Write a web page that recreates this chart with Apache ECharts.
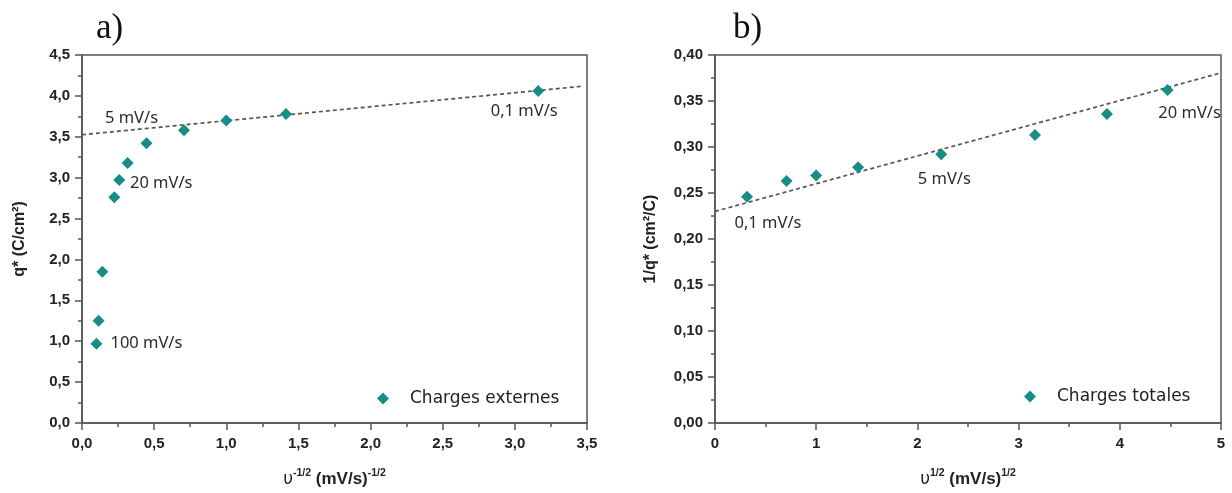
<!DOCTYPE html>
<html>
<head>
<meta charset="utf-8">
<script src="https://cdn.jsdelivr.net/npm/echarts@6/dist/echarts.min.js"></script>
<style>html,body{margin:0;padding:0;background:#fff}#c{width:1232px;height:493px}</style>
</head>
<body>
<div id="c"></div>
<script>
// ---- Data: panel a) ----
const aNames = ['Charges externes'];
const aX = [0.1, 0.115, 0.141, 0.224, 0.258, 0.316, 0.447, 0.707, 1.0, 1.414, 3.162];
const aY = [0.97, 1.25, 1.85, 2.76, 2.97, 3.18, 3.42, 3.58, 3.70, 3.78, 4.06];
const aNotes = ['100 mV/s', '', '', '', '20 mV/s', '', '5 mV/s', '', '', '', '0,1 mV/s'];
const aFitX = [0, 3.46];
const aFitY = [3.525, 4.117];
const aXTicks = ['0,0','0,5','1,0','1,5','2,0','2,5','3,0','3,5'];
const aYTicks = ['0,0','0,5','1,0','1,5','2,0','2,5','3,0','3,5','4,0','4,5'];

// ---- Data: panel b) ----
const bNames = ['Charges totales'];
const bX = [0.316, 0.707, 1.0, 1.414, 2.236, 3.162, 3.873, 4.472];
const bY = [0.246, 0.263, 0.269, 0.278, 0.292, 0.313, 0.336, 0.362];
const bNotes = ['0,1 mV/s', '', '', '', '5 mV/s', '', '', '20 mV/s'];
const bFitX = [0, 4.98];
const bFitY = [0.230, 0.380];
const bXTicks = ['0','1','2','3','4','5'];
const bYTicks = ['0,00','0,05','0,10','0,15','0,20','0,25','0,30','0,35','0,40'];

// ---- Styles ----
const TEAL = '#178d88';
const AX = '#555';
const noteOffsetA = {'100 mV/s':[50,0], '20 mV/s':[42,3], '5 mV/s':[-15,-25], '0,1 mV/s':[-14,20]};
const noteOffsetB = {'0,1 mV/s':[21,27], '5 mV/s':[3,25], '20 mV/s':[22,23]};

function pts(xs, ys, notes, offs) {
  return xs.map((x, i) => {
    const d = {value: [x, ys[i]]};
    if (notes[i]) {
      d.label = {show: true, position: 'inside', formatter: notes[i], offset: offs[notes[i]],
        fontFamily: 'Noto Sans', fontSize: 16.5, color: '#2a2a2a'};
    }
    return d;
  });
}
function pairs(xs, ys) { return xs.map((x, i) => [x, ys[i]]); }

function xAxis(gi, min, max, interval, ticks, nameRich) {
  return {
    type: 'value', gridIndex: gi, min: min, max: max, interval: interval,
    name: nameRich, nameLocation: 'middle', nameGap: 45,
    nameTextStyle: {rich: {
      t: {fontFamily: 'Liberation Sans', fontSize: 17, fontWeight: 'bold', color: '#222'},
      u: {fontFamily: 'DejaVu Sans', fontSize: 17, color: '#222'},
      s: {fontFamily: 'Liberation Sans', fontSize: 10.5, fontWeight: 'bold', color: '#222', padding: [0,0,12,0]}
    }},
    axisLine: {show: true, lineStyle: {color: AX, width: 1.5}},
    axisTick: {show: true, inside: false, length: 7, lineStyle: {color: AX, width: 1.5}},
    minorTick: {show: true, splitNumber: 2, length: 4, lineStyle: {color: AX, width: 1.5}},
    splitLine: {show: false},
    axisLabel: {margin: 13, fontFamily: 'Liberation Sans', fontWeight: 'bold', fontSize: 15, color: '#222',
      formatter: (v) => ticks[Math.round((v - min) / interval)]}
  };
}
function yAxis(gi, min, max, interval, ticks, name, gap) {
  return {
    type: 'value', gridIndex: gi, min: min, max: max, interval: interval,
    name: name, nameLocation: 'middle', nameGap: gap,
    nameTextStyle: {fontFamily: 'Liberation Sans', fontSize: 16, fontWeight: 'bold', color: '#222'},
    axisLine: {show: true, lineStyle: {color: AX, width: 1.5}},
    axisTick: {show: true, inside: false, length: 7, lineStyle: {color: AX, width: 1.5}},
    minorTick: {show: true, splitNumber: 2, length: 4, lineStyle: {color: AX, width: 1.5}},
    splitLine: {show: false},
    axisLabel: {margin: 12, fontFamily: 'Liberation Sans', fontWeight: 'bold', fontSize: 15, color: '#222',
      formatter: (v) => ticks[Math.round((v - min) / interval)]}
  };
}

const chart = echarts.init(document.getElementById('c'), null, {renderer: 'canvas'});
chart.setOption({
  animation: false,
  backgroundColor: '#fff',
  title: [
    {text: 'a)', left: 96, top: 11, padding: 0, textStyle: {fontFamily: 'Liberation Serif', fontSize: 35, fontWeight: 'normal', color: '#111'}},
    {text: 'b)', left: 733, top: 11, padding: 0, textStyle: {fontFamily: 'Liberation Serif', fontSize: 35, fontWeight: 'normal', color: '#111'}}
  ],
  grid: [
    {left: 82, top: 55, width: 505, height: 373, show: true, borderColor: AX, borderWidth: 1.5, containLabel: false},
    {left: 715, top: 55, width: 506, height: 373, show: true, borderColor: AX, borderWidth: 1.5, containLabel: false}
  ],
  legend: [
    {data: aNames, left: 372, top: 385, itemWidth: 12, itemHeight: 12, icon: 'diamond',
      textStyle: {fontFamily: 'DejaVu Sans', fontSize: 17, color: '#222', padding: [0,0,0,16]}},
    {data: bNames, left: 1019, top: 383, itemWidth: 12, itemHeight: 12, icon: 'diamond',
      textStyle: {fontFamily: 'DejaVu Sans', fontSize: 17, color: '#222', padding: [0,0,0,16]}}
  ],
  xAxis: [
    xAxis(0, 0, 3.5, 0.5, aXTicks, '{u|υ}{s|-1/2}{t| (mV/s)}{s|-1/2}'),
    xAxis(1, 0, 5, 1, bXTicks, '{u|υ}{s|1/2}{t| (mV/s)}{s|1/2}')
  ],
  yAxis: [
    yAxis(0, 0, 4.5, 0.5, aYTicks, 'q* (C/cm²)', 54),
    yAxis(1, 0, 0.4, 0.05, bYTicks, '1/q* (cm²/C)', 56)
  ],
  series: [
    {type: 'line', xAxisIndex: 0, yAxisIndex: 0, data: pairs(aFitX, aFitY), symbol: 'none', silent: true,
      lineStyle: {color: '#555', width: 1.7, type: [4, 3]}, z: 1},
    {name: aNames[0], type: 'scatter', xAxisIndex: 0, yAxisIndex: 0, symbol: 'diamond', symbolSize: 12,
      itemStyle: {color: TEAL, opacity: 1}, data: pts(aX, aY, aNotes, noteOffsetA), z: 3},
    {type: 'line', xAxisIndex: 1, yAxisIndex: 1, data: pairs(bFitX, bFitY), symbol: 'none', silent: true,
      lineStyle: {color: '#555', width: 1.7, type: [4, 3]}, z: 1},
    {name: bNames[0], type: 'scatter', xAxisIndex: 1, yAxisIndex: 1, symbol: 'diamond', symbolSize: 12,
      itemStyle: {color: TEAL, opacity: 1}, data: pts(bX, bY, bNotes, noteOffsetB), z: 3}
  ]
});
</script>
</body>
</html>
